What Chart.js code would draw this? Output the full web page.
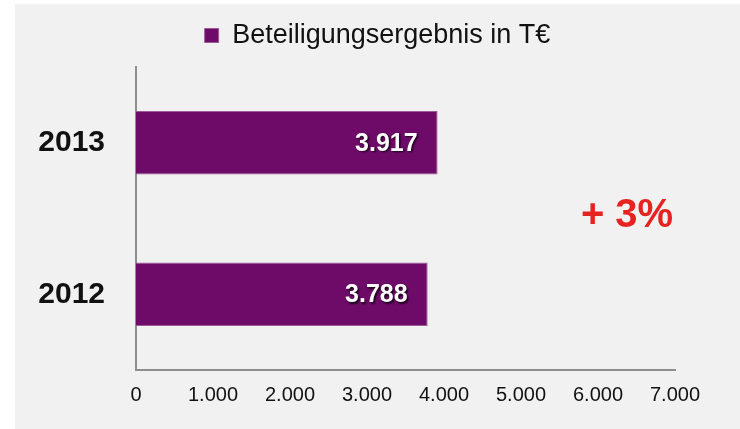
<!DOCTYPE html>
<html>
<head>
<meta charset="utf-8">
<script src="https://cdn.jsdelivr.net/npm/chart.js@4"></script>
<style>
  html, body { margin: 0; padding: 0; background: #ffffff; }
  #wrap { position: absolute; left: 15px; top: 4px; width: 725px; height: 425px; background: #f1f1f1; }
  canvas { display: block; }
</style>
</head>
<body>
<div id="wrap"><canvas id="c" width="725" height="425"></canvas></div>
<script>
const categories = ['2013', '2012'];
const seriesName = 'Beteiligungsergebnis in T€';
const values = [3917, 3788];
const xTicks = [0, 1000, 2000, 3000, 4000, 5000, 6000, 7000];
const changeLabel = '+ 3%';

const FONT = "'Liberation Sans', Arial, sans-serif";
const fmt = v => v.toLocaleString('de-DE');

const legendHeightPlugin = {
  id: 'legendHeight',
  afterInit(chart) {
    const lg = chart.legend;
    if (!lg) return;
    const orig = lg.fit;
    lg.fit = function () { orig.call(this); this.height = 63; };
  }
};

const labelPlugin = {
  id: 'labels',
  afterDatasetsDraw(chart) {
    const ctx = chart.ctx;
    const meta = chart.getDatasetMeta(0);
    ctx.save();
    ctx.font = 'bold 25px ' + FONT;
    ctx.textAlign = 'right';
    ctx.textBaseline = 'middle';
    ctx.fillStyle = '#ffffff';
    ctx.shadowColor = 'rgba(0,0,0,0.75)';
    ctx.shadowOffsetX = 1.5;
    ctx.shadowOffsetY = 1.5;
    ctx.shadowBlur = 2;
    meta.data.forEach((bar, i) => {
      ctx.fillText(fmt(values[i]), bar.x - 20, bar.y + 1);
    });
    ctx.restore();

    const a = chart.chartArea;
    ctx.save();
    ctx.font = 'bold 40px ' + FONT;
    ctx.textAlign = 'center';
    ctx.textBaseline = 'middle';
    ctx.fillStyle = '#e52421';
    ctx.fillText(changeLabel, a.left + 0.911 * (a.right - a.left), a.top + 0.49 * (a.bottom - a.top));
    ctx.restore();
  }
};

new Chart(document.getElementById('c'), {
  type: 'bar',
  data: {
    labels: categories,
    datasets: [{
      label: seriesName,
      data: values,
      backgroundColor: '#6e0b68',
      borderColor: '#9c5a98',
      borderWidth: 1,
      categoryPercentage: 1,
      barPercentage: 0.42
    }]
  },
  options: {
    indexAxis: 'y',
    responsive: false,
    animation: false,
    devicePixelRatio: 1,
    layout: { padding: 0 },
    plugins: {
      legend: {
        display: true,
        position: 'top',
        labels: {
          color: '#111111',
          font: { family: FONT, size: 27 },
          boxWidth: 14,
          boxHeight: 14,
          padding: 18
        }
      },
      tooltip: { enabled: false }
    },
    scales: {
      x: {
        min: 0,
        max: 7000,
        afterBuildTicks(scale) { scale.ticks = xTicks.map(v => ({ value: v })); },
        afterFit(scale) { scale.height = 59; scale.paddingRight = 65; },
        grid: { display: false, drawTicks: false },
        border: { display: true, color: '#8e8e8e', width: 2 },
        ticks: {
          color: '#111111',
          font: { family: FONT, size: 20 },
          padding: 13,
          maxRotation: 0,
          callback: v => fmt(v)
        }
      },
      y: {
        type: 'category',
        offset: true,
        afterFit(scale) { scale.width = 121; },
        grid: { display: false, drawTicks: false },
        border: { display: true, color: '#8e8e8e', width: 2 },
        ticks: {
          color: '#111111',
          font: { family: FONT, size: 30, weight: 'bold' },
          padding: 31
        }
      }
    }
  },
  plugins: [legendHeightPlugin, labelPlugin]
});
</script>
</body>
</html>
